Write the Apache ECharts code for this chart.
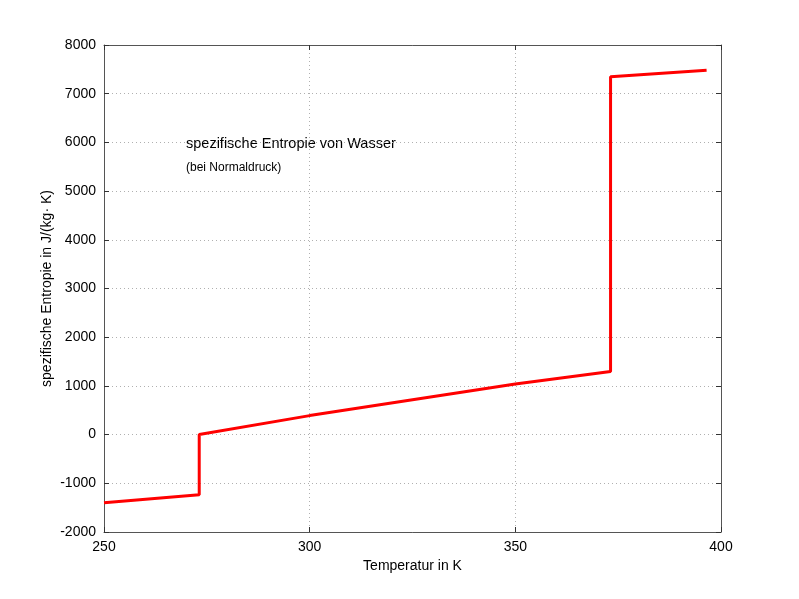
<!DOCTYPE html>
<html>
<head>
<meta charset="utf-8">
<script src="https://cdn.jsdelivr.net/npm/echarts@6/dist/echarts.min.js"></script>
<style>
html, body { margin: 0; padding: 0; background: #fff; }
#chart { width: 799px; height: 599px; }
</style>
</head>
<body>
<div id="chart"></div>
<script>
// Temperatur in K / spezifische Entropie in J/(kg K)
var temps   = [250, 273.15, 273.15, 300, 350, 373.15, 373.15, 396.5];
var entropy = [-1400, -1235, 0, 390, 1040, 1295, 7350, 7480];
var xTicks = [250, 300, 350, 400];
var yTicks = [-2000, -1000, 0, 1000, 2000, 3000, 4000, 5000, 6000, 7000, 8000];

var font = 'Liberation Sans, Arial, sans-serif';

var lineData = [];
for (var i = 0; i < temps.length; i++) lineData.push([temps[i], entropy[i]]);

var myChart = echarts.init(document.getElementById('chart'));

var axisLine = { show: true, onZero: false, lineStyle: { color: '#555', width: 1 } };
var tickIn = { show: true, inside: true, length: 5, lineStyle: { color: '#333' } };
var grid = { show: true, lineStyle: { color: '#b0b0b0', type: [1, 3], width: 1 } };
var plain = function (v) { return String(v); };

var option = {
	backgroundColor: '#fff',
	animation: false,
	grid: { left: 104, right: 78, top: 45, bottom: 67, containLabel: false },
	xAxis: [{
		type: 'value',
		min: xTicks[0], max: xTicks[xTicks.length - 1], interval: 50,
		position: 'bottom',
		name: 'Temperatur in K',
		nameLocation: 'middle', nameGap: 25,
		nameTextStyle: { fontFamily: font, fontSize: 14, color: '#000' },
		axisLine: axisLine, axisTick: tickIn,
		axisLabel: { fontFamily: font, fontSize: 14, color: '#000', margin: 8, formatter: plain },
		splitLine: grid
	}, {
		type: 'value',
		min: xTicks[0], max: xTicks[xTicks.length - 1], interval: 50,
		position: 'top',
		axisLine: axisLine, axisTick: tickIn,
		axisLabel: { show: false }, splitLine: { show: false }
	}],
	yAxis: [{
		type: 'value',
		min: yTicks[0], max: yTicks[yTicks.length - 1], interval: 1000,
		position: 'left',
		name: 'spezifische Entropie in J/(kg\u00b7 K)',
		nameLocation: 'middle', nameGap: 50,
		nameMoveOverlap: false,
		nameTextStyle: { fontFamily: font, fontSize: 14, color: '#000' },
		axisLine: axisLine, axisTick: tickIn,
		axisLabel: { fontFamily: font, fontSize: 14, color: '#000', margin: 8, formatter: plain },
		splitLine: grid
	}, {
		type: 'value',
		min: yTicks[0], max: yTicks[yTicks.length - 1], interval: 1000,
		position: 'right',
		axisLine: axisLine, axisTick: tickIn,
		axisLabel: { show: false }, splitLine: { show: false }
	}],
	graphic: [{
		type: 'text', left: 186, top: 136,
		style: { text: 'spezifische Entropie von Wasser', fontFamily: font, fontSize: 14.5, fill: '#000' }
	}, {
		type: 'text', left: 186, top: 162,
		style: { text: '(bei Normaldruck)', fontFamily: font, fontSize: 12, fill: '#000' }
	}],
	series: [{
		type: 'line',
		data: lineData,
		showSymbol: false,
		lineStyle: { color: '#ff0000', width: 3 },
		itemStyle: { color: '#ff0000' }
	}]
};

myChart.setOption(option);
</script>
</body>
</html>
